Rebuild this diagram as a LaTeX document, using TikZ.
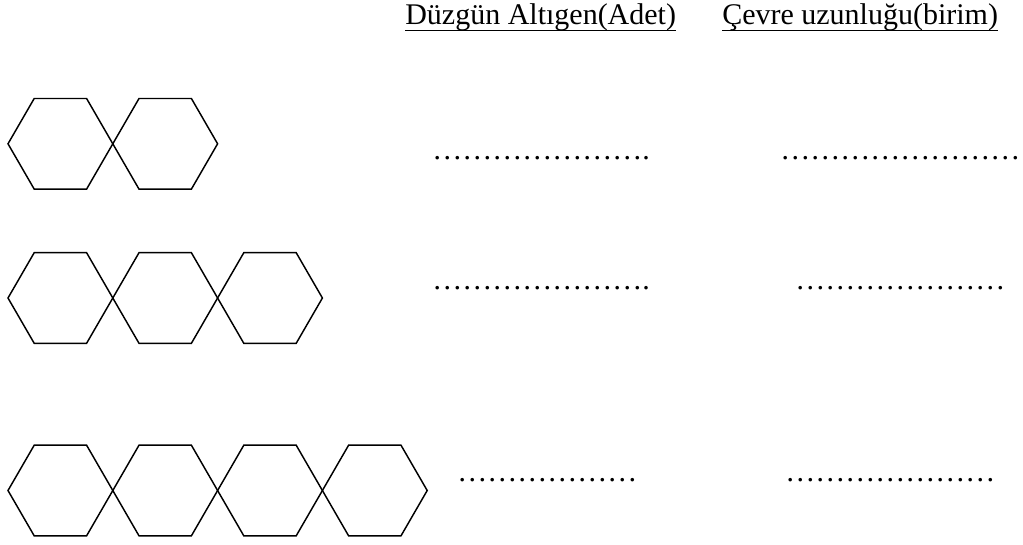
\documentclass[tikz,border=0pt]{standalone}
\usepackage{fontspec}
\setmainfont{Liberation Serif}
\begin{document}
\begin{tikzpicture}[x=0.75pt,y=-0.75pt,
  hexline/.style={line width=1.1pt,line join=miter},
  txt/.style={inner sep=0pt,anchor=base west,font=\fontsize{22.5}{27}\selectfont},
  uline/.style={line width=1.1pt}]
\useasboundingbox (0,0) rectangle (1023,544);
\def\s{52.4}
\def\h{45.3}
% rows of hexagons: (yc, count)
\foreach \yc/\n in {143.8/2, 298/3, 490.5/4}{
  \foreach \k in {1,...,\n}{
    \pgfmathsetmacro{\xa}{8+2*\s*(\k-1)}
    \draw[hexline] (\xa,\yc) -- ++(\s/2,-\h) -- ++(\s,0) -- ++(\s/2,\h)
      -- ++(-\s/2,\h) -- ++(-\s,0) -- cycle;
  }
}
% header
\node[txt] (h1) at (405,24.5) {Düzgün Altıgen(Adet)};
\node[txt] (h2) at (722,24.5) {Çevre uzunluğu(birim)};
\draw[uline] ([yshift=-4.5pt]h1.base west) -- ([yshift=-4.5pt]h1.base east);
\draw[uline] ([yshift=-4.5pt]h2.base west) -- ([yshift=-4.5pt]h2.base east);
% dotted answer lines
\node[txt] (a1) at (432,159) {………………….};
\node[txt] (b1) at (780,159) {……………………};
\node[txt] (a2) at (432,289) {………………….};
\node[txt] (b2) at (795,289) {…………………};
\node[txt] (a3) at (457,481) {………………};
\node[txt] (b3) at (785,481) {…………………};
\end{tikzpicture}
\end{document}
